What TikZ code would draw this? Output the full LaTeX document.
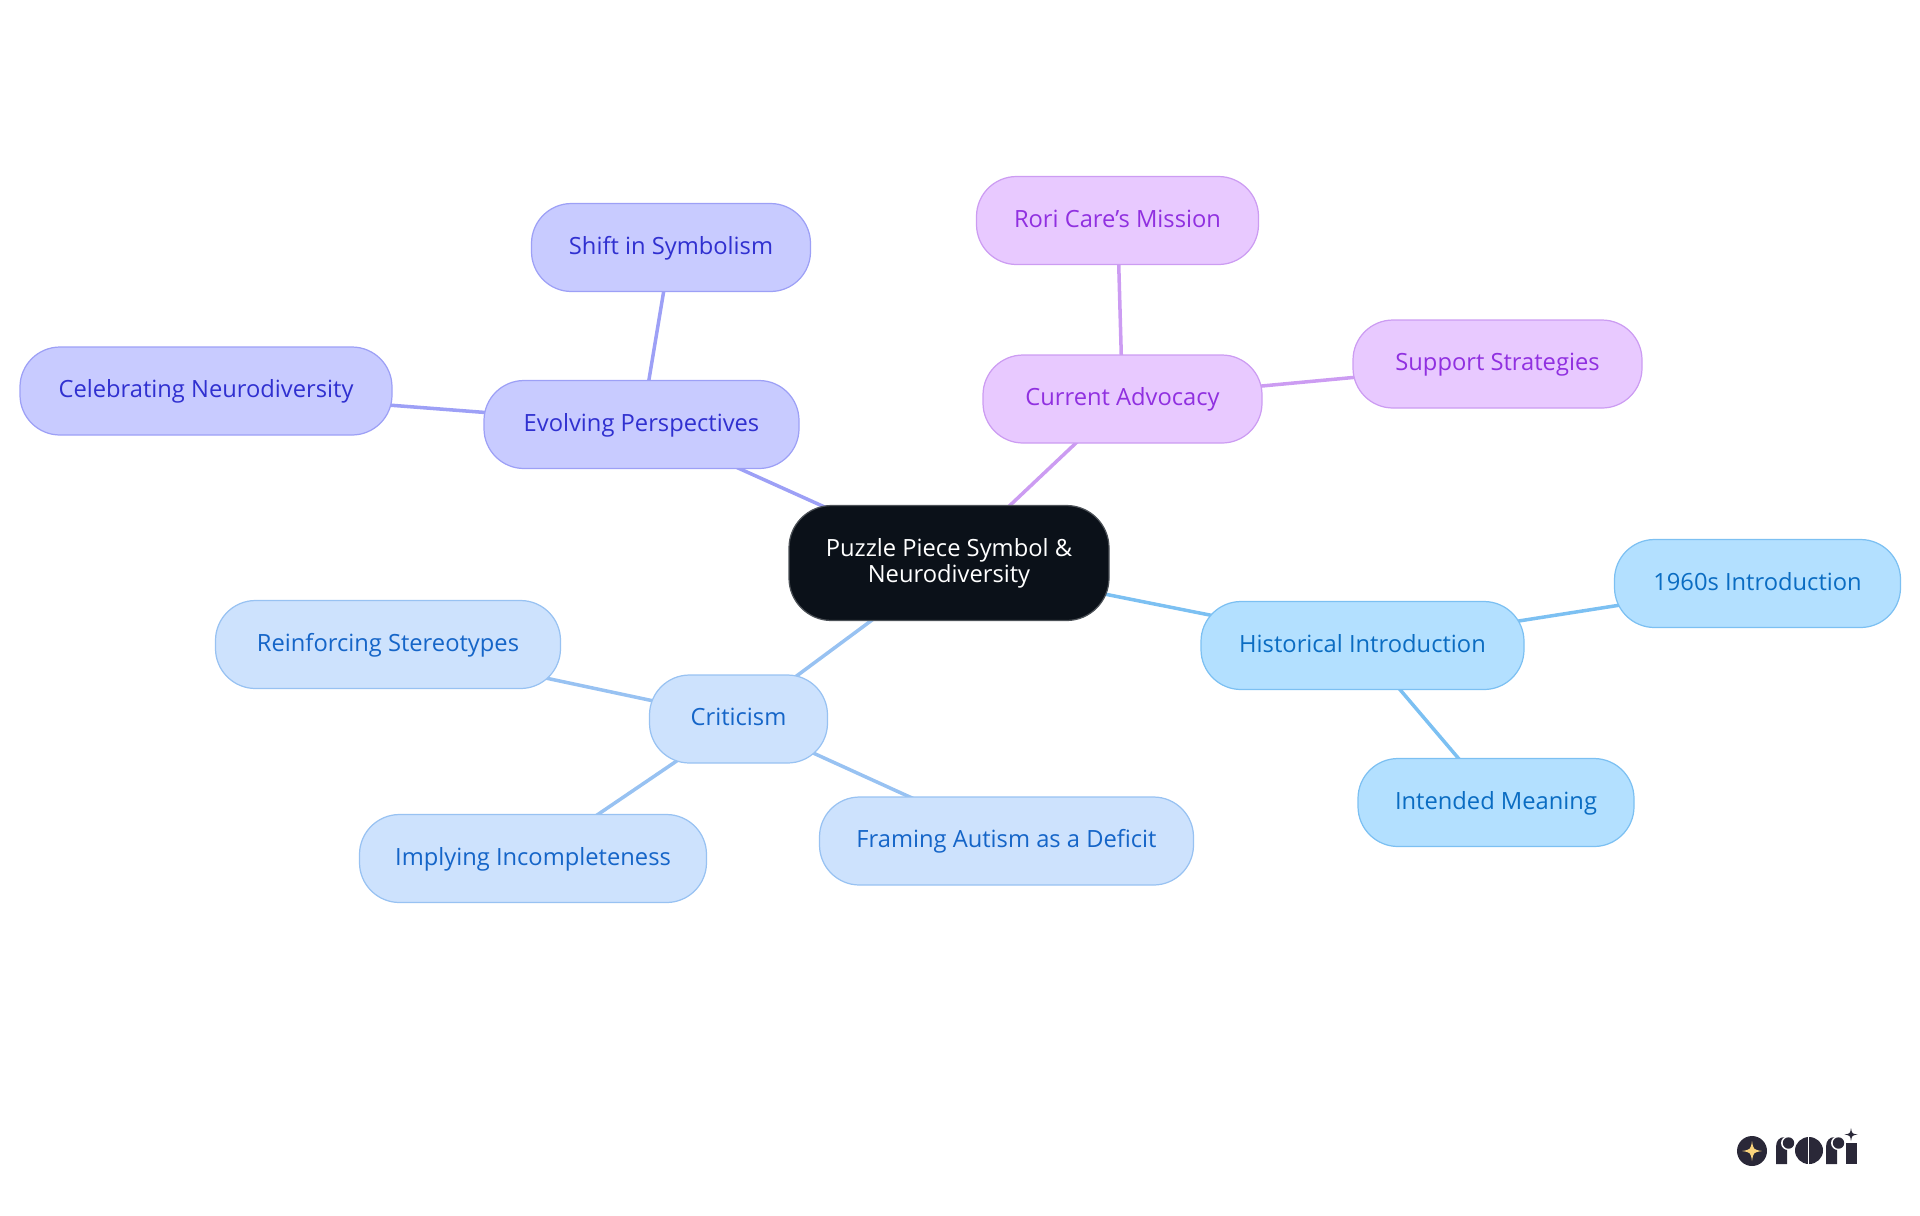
\documentclass[tikz,border=0pt]{standalone}
\usepackage{fontspec}
\setmainfont{Open Sans}
\usetikzlibrary{backgrounds}
\definecolor{rootfill}{HTML}{0B1119}
\definecolor{rootline}{HTML}{4C5157}
\definecolor{histfill}{HTML}{B3E0FF}
\definecolor{histline}{HTML}{7CC0F2}
\definecolor{histtext}{HTML}{0A6CC2}
\definecolor{critfill}{HTML}{CDE2FD}
\definecolor{critline}{HTML}{98C2F2}
\definecolor{crittext}{HTML}{1565C8}
\definecolor{evolfill}{HTML}{C8CBFF}
\definecolor{evolline}{HTML}{9DA0F6}
\definecolor{evoltext}{HTML}{3030D0}
\definecolor{currfill}{HTML}{E8C9FF}
\definecolor{currline}{HTML}{CC9CF2}
\definecolor{currtext}{HTML}{9030E0}
\definecolor{logoink}{HTML}{2A2838}
\definecolor{logostar}{HTML}{FAD47C}
\def\sparkle[#1](#2)(#3){\fill[#1,shift={(#2)}] (0,-#3) .. controls (0.14*#3,-0.14*#3) .. (#3,0) .. controls (0.14*#3,0.14*#3) .. (0,#3) .. controls (-0.14*#3,0.14*#3) .. (-#3,0) .. controls (-0.14*#3,-0.14*#3) .. cycle;}
\def\logor(#1){\fill[logoink,shift={(#1,0)}] (0,1164) -- (0,1147) .. controls (0,1141) and (3,1137) .. (9,1137) -- (9,1146) -- (11,1150) -- (11,1164) -- cycle;
	\fill[white] (#1+12,1143) circle (7);
	\fill[logoink] (#1+12.5,1143) circle (5.7);}
\tikzset{
	boxw/.style={minimum width=#1*0.02cm},
	basetopic/.style={draw, line width=0.7pt, rounded corners=0.8cm, minimum height=1.76cm, inner sep=0pt, font=\fontsize{13.5}{14.8}\selectfont, align=center},
	topic/.style={basetopic, text height=10pt, text depth=2.5pt},
	roottopic/.style={basetopic, fill=rootfill, draw=rootline, text=white, rounded corners=0.85cm, minimum height=2.3cm},
	histtopic/.style={topic, fill=histfill, draw=histline, text=histtext},
	crittopic/.style={topic, fill=critfill, draw=critline, text=crittext},
	evoltopic/.style={topic, fill=evolfill, draw=evolline, text=evoltext},
	currtopic/.style={topic, fill=currfill, draw=currline, text=currtext},
	branch/.style={line width=2pt}
}

\begin{document}
\begin{tikzpicture}[x=0.02cm, y=-0.02cm]
	%%%%% START %%%%%
	\useasboundingbox (0, 0) rectangle (1920, 1215);
	
	\node[roottopic, boxw=320] (puzzle) at (949, 563) {Puzzle Piece Symbol \&\\Neurodiversity};
	
	\node[histtopic, boxw=323] (historical) at (1362.5, 645.5) {Historical Introduction};
	\node[histtopic, boxw=286] (sixties) at (1757.5, 583.5) {1960s Introduction};
	\node[histtopic, boxw=276] (intended) at (1496, 802.5) {Intended Meaning};
	
	\node[crittopic, boxw=178] (criticism) at (738.5, 719) {Criticism};
	\node[crittopic, boxw=345] (stereotypes) at (388, 644.5) {Reinforcing Stereotypes};
	\node[crittopic, boxw=347] (incomplete) at (533, 858.5) {Implying Incompleteness};
	\node[crittopic, boxw=374] (deficit) at (1006.5, 841) {Framing Autism as a Deficit};
	
	\node[evoltopic, boxw=315] (evolving) at (641.5, 424.5) {Evolving Perspectives};
	\node[evoltopic, boxw=279] (shift) at (671, 247.5) {Shift in Symbolism};
	\node[evoltopic, boxw=372] (celebrating) at (206, 391) {Celebrating Neurodiversity};
	
	\node[currtopic, boxw=279] (advocacy) at (1122.5, 399) {Current Advocacy};
	\node[currtopic, boxw=282] (mission) at (1117.5, 220.5) {Rori Care's Mission};
	\node[currtopic, boxw=289] (strategies) at (1497.5, 364) {Support Strategies};
	
	\begin{scope}[on background layer]
		\draw[branch, histline] (puzzle.center) -- (historical.center);
		\draw[branch, histline] (historical.center) -- (sixties.center);
		\draw[branch, histline] (historical.center) -- (intended.center);
		
		\draw[branch, critline] (puzzle.center) -- (criticism.center);
		\draw[branch, critline] (criticism.center) -- (stereotypes.center);
		\draw[branch, critline] (criticism.center) -- (incomplete.center);
		\draw[branch, critline] (criticism.center) -- (deficit.center);
		
		\draw[branch, evolline] (puzzle.center) -- (evolving.center);
		\draw[branch, evolline] (evolving.center) -- (shift.center);
		\draw[branch, evolline] (evolving.center) -- (celebrating.center);
		
		\draw[branch, currline] (puzzle.center) -- (advocacy.center);
		\draw[branch, currline] (advocacy.center) -- (mission.center);
		\draw[branch, currline] (advocacy.center) -- (strategies.center);
	\end{scope}
	
	% logo
	\fill[logoink] (1752, 1151) circle (15);
	\sparkle[logostar](1752, 1151)(10);
	\logor(1776);
	\fill[logoink] (1809, 1150.5) ellipse (14 and 13.5);
	\fill[white] (1808, 1137) rectangle (1809, 1164);
	\logor(1826);
	\fill[logoink] (1845.5, 1143) rectangle (1856.5, 1164);
	\sparkle[logoink](1851, 1134.5)(6.5);
	
	%%%%% END %%%%%
\end{tikzpicture}
\end{document}
